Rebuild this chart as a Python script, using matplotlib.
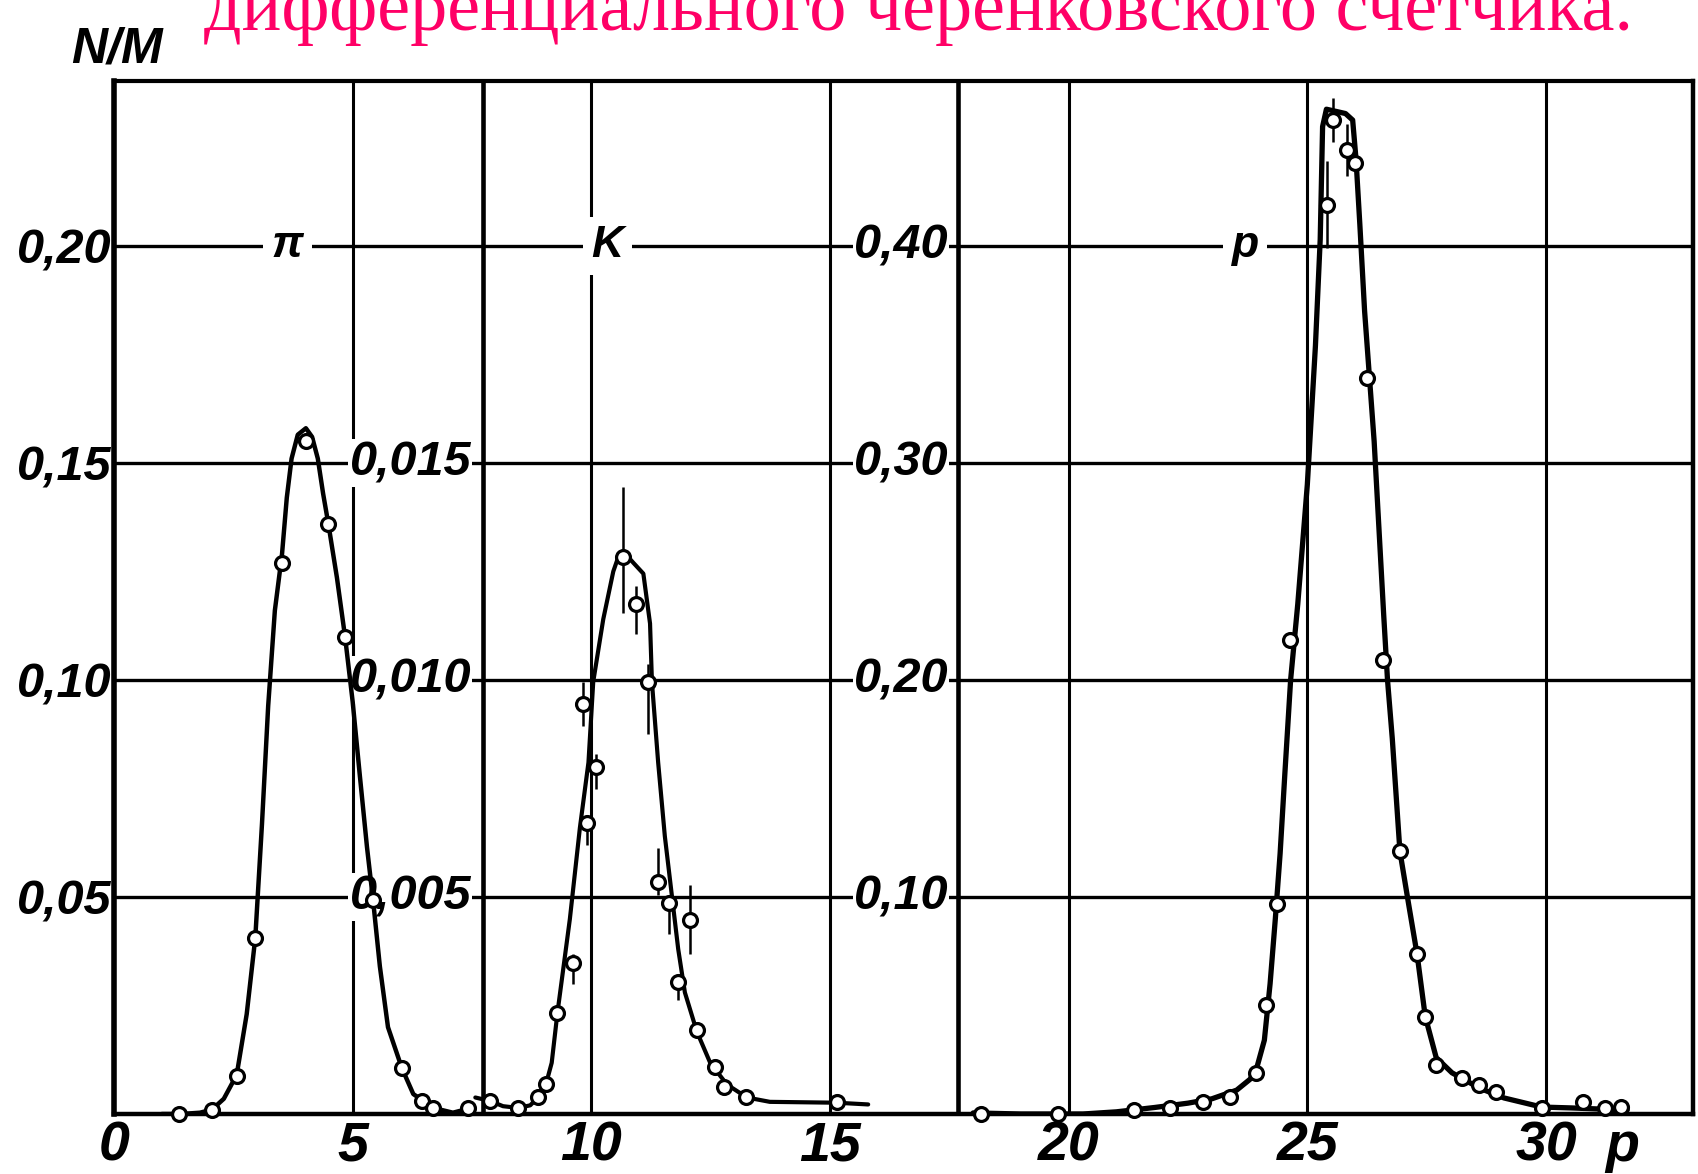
import matplotlib
matplotlib.use("Agg")
import matplotlib.pyplot as plt
from matplotlib import font_manager, transforms

# ---------------- data ----------------
title_text = "дифференциального черенковского счетчика."
y_axis_label = "N/M"
x_tick_values = [0, 5, 10, 15, 20, 25, 30, 31.6]
x_tick_labels = ["0", "5", "10", "15", "20", "25", "30", "p"]
left_tick_values = [0.05, 0.10, 0.15, 0.20]
left_tick_labels = ["0,05", "0,10", "0,15", "0,20"]
k_tick_values = [0.005, 0.010, 0.015]
k_tick_labels = ["0,005", "0,010", "0,015"]
p_tick_values = [0.10, 0.20, 0.30, 0.40]
p_tick_labels = ["0,10", "0,20", "0,30", "0,40"]
panel_names = ["π", "K", "p"]
panel_name_x = [3.63, 10.33, 23.7]

# pi meson (left scale)
pi_x = [1.36, 2.05, 2.57, 2.96, 3.52, 4.03, 4.49, 4.84, 5.43, 6.03, 6.45, 6.69, 7.42]
pi_y = [0.0, 0.0010, 0.0088, 0.0406, 0.127, 0.155, 0.136, 0.110, 0.0494, 0.0106, 0.0030, 0.0014, 0.0014]
pi_curve_x = [1.0, 1.4, 1.8, 2.05, 2.3, 2.57, 2.78, 2.96, 3.1, 3.23, 3.37, 3.52, 3.62, 3.72, 3.85,
              4.02, 4.15, 4.27, 4.38, 4.49, 4.67, 4.84, 5.0, 5.15, 5.3, 5.43, 5.57, 5.74, 6.03, 6.27,
              6.69, 7.1, 7.42]
pi_curve_y = [0.0, 0.0, 0.0003, 0.0010, 0.0035, 0.0090, 0.023, 0.0406, 0.0668, 0.094, 0.116, 0.129,
              0.142, 0.151, 0.1565, 0.158, 0.156, 0.151, 0.143, 0.136, 0.1236, 0.110, 0.095, 0.078,
              0.0615, 0.049, 0.034, 0.020, 0.0106, 0.0046, 0.0014, 0.0003, 0.0012]

# K meson (K scale)
k_x = [7.88, 8.47, 8.89, 9.05, 9.29, 9.61, 9.83, 9.91, 10.10, 10.67, 10.94, 11.19, 11.40, 11.63,
       11.82, 12.07, 12.21, 12.59, 12.78, 13.24, 15.15]
k_y = [0.00030, 0.00014, 0.00039, 0.00069, 0.00233, 0.00349, 0.00945, 0.00670, 0.00799, 0.01284,
       0.01176, 0.00996, 0.00534, 0.00485, 0.00303, 0.00448, 0.00194, 0.00109, 0.00062, 0.00039, 0.00028]
k_err_lo = [0, 0, 0, 0, 0, 0.0005, 0.0005, 0.0005, 0.0005, 0.0013, 0.0007, 0.0012, 0.0003, 0.0007,
            0.0004, 0.0008, 0, 0, 0, 0, 0]
k_err_hi = [0, 0, 0, 0, 0, 0.0002, 0.0005, 0.0002, 0.0003, 0.0016, 0.0004, 0.0004, 0.0008, 0.0002,
            0.0002, 0.0008, 0, 0, 0, 0, 0]
k_curve_x = [7.57, 7.88, 8.15, 8.47, 8.72, 8.89, 9.05, 9.17, 9.29, 9.55, 9.76, 9.94, 10.04, 10.25,
             10.46, 10.57, 10.67, 10.88, 11.09, 11.23, 11.27, 11.40, 11.54, 11.68, 11.82, 11.96, 12.21,
             12.49, 12.84, 13.26, 13.74, 15.14, 15.8]
k_curve_y = [0.00038, 0.00030, 0.00018, 0.00014, 0.00020, 0.00039, 0.00069, 0.00118, 0.00233, 0.00449,
             0.00659, 0.0081, 0.00996, 0.0114, 0.0125, 0.01285, 0.01296, 0.0127, 0.01245, 0.0113,
             0.00995, 0.0081, 0.0064, 0.0051, 0.0038, 0.0028, 0.0019, 0.00118, 0.00068, 0.00038,
             0.00028, 0.00026, 0.00022]

# protons (p scale)
p_x = [18.17, 19.77, 21.37, 22.12, 22.82, 23.37, 23.93, 24.14, 24.37, 24.64, 25.41, 25.53, 25.83,
       26.00, 26.25, 26.59, 26.94, 27.30, 27.47, 27.70, 28.24, 28.60, 28.95, 29.91, 30.78, 31.23, 31.57]
p_y = [0.0, 0.0, 0.0018, 0.0028, 0.0055, 0.0079, 0.019, 0.050, 0.0966, 0.2185, 0.419, 0.458, 0.444,
       0.438, 0.339, 0.209, 0.121, 0.0735, 0.0448, 0.0226, 0.0166, 0.0134, 0.0102, 0.0028, 0.0055,
       0.0028, 0.0032]
p_err = [0, 0, 0, 0, 0, 0, 0, 0, 0, 0, 0.02, 0.01, 0.012, 0, 0, 0, 0, 0, 0, 0, 0, 0, 0, 0, 0, 0, 0]
p_curve_x = [18.0, 19.0, 20.3, 21.0, 21.8, 22.5, 23.0, 23.52, 23.8, 23.95, 24.1, 24.22, 24.33, 24.43,
             24.53, 24.65, 24.8, 25.0, 25.17, 25.27, 25.32, 25.4, 25.6, 25.8, 25.95, 26.02, 26.1, 26.2,
             26.3, 26.4, 26.5, 26.6, 26.68, 26.78, 26.94, 27.13, 27.30, 27.47, 27.7, 28.03, 28.6,
             29.12, 29.91, 30.53, 31.7]
p_curve_y = [0.0005, 0.0, 0.0, 0.001, 0.003, 0.005, 0.007, 0.011, 0.016, 0.022, 0.034, 0.060, 0.090,
             0.120, 0.157, 0.200, 0.235, 0.290, 0.354, 0.403, 0.455, 0.463, 0.462, 0.461, 0.458, 0.44,
             0.41, 0.37, 0.34, 0.31, 0.27, 0.23, 0.20, 0.173, 0.121, 0.0957, 0.0735, 0.045, 0.026,
             0.019, 0.012, 0.0074, 0.0032, 0.0028, 0.0018]

# grid / frame positions (x in momentum units)
x_max = 33.08
left_y_max = 0.238
k_y_max = 0.0238
p_y_max = 0.476
k_axis_x = 7.73
p_axis_x = 17.68
v_grid = [5, 10, 15, 20, 25, 30]

# ---------------- fonts ----------------
names = {f.name for f in font_manager.fontManager.ttflist}
if "Liberation Sans Narrow" in names:
    tick_family = ["Liberation Sans Narrow", "DejaVu Sans"]
    ytick_size, xtick_size = 38, 44
else:
    tick_family = ["Liberation Sans", "DejaVu Sans"]
    ytick_size, xtick_size = 35, 40

W, H, DPI = 1699, 1174, 100
fig = plt.figure(figsize=(W / DPI, H / DPI), dpi=DPI)
fig.patch.set_facecolor("white")

ax = fig.add_axes([114 / W, 1 - 1114 / H, (1693 - 114) / W, (1114 - 81) / H])
ax.set_xlim(0, x_max)
ax.set_ylim(0, left_y_max)
axK = ax.twinx()
axK.set_ylim(0, k_y_max)
axP = ax.twinx()
axP.set_ylim(0, p_y_max)
for a in (axK, axP):
    a.set_axis_off()
    a.patch.set_visible(False)

for side, lw in (("left", 4.0), ("right", 3.2), ("top", 3.0), ("bottom", 3.2)):
    ax.spines[side].set_linewidth(lw)
    ax.spines[side].set_color("black")

# grid lines
for yv in left_tick_values:
    ax.axhline(yv, color="black", lw=2.4, zorder=1)
for xv in v_grid:
    ax.axvline(xv, color="black", lw=2.2, zorder=1)
for xv in (k_axis_x, p_axis_x):
    ax.axvline(xv, color="black", lw=3.3, zorder=1)

# ticks
tick_kw = dict(family=tick_family, style="italic", weight="bold")
ax.set_yticks(left_tick_values)
ax.set_yticklabels(left_tick_labels, **tick_kw, fontsize=ytick_size)
ax.set_xticks(x_tick_values)
ax.set_xticklabels(x_tick_labels, **tick_kw, fontsize=xtick_size)
ax.tick_params(axis="both", length=0)
ax.tick_params(axis="y", pad=2)
ax.tick_params(axis="x", pad=5)

bbox = dict(facecolor="white", edgecolor="none", pad=1.0)
transK = transforms.blended_transform_factory(ax.transData, axK.transData)
transP = transforms.blended_transform_factory(ax.transData, axP.transData)
for v, lab in zip(k_tick_values, k_tick_labels):
    ax.text(k_axis_x - 0.25, v, lab, transform=transK, ha="right", va="center",
            fontsize=ytick_size, bbox=bbox, zorder=2, **tick_kw)
for v, lab in zip(p_tick_values, p_tick_labels):
    ax.text(p_axis_x - 0.2, v, lab, transform=transP, ha="right", va="center",
            fontsize=ytick_size, bbox=dict(facecolor="white", edgecolor="none", pad=0.5),
            zorder=2, **tick_kw)

for xn, nm in zip(panel_name_x, panel_names):
    ax.text(xn, left_tick_values[-1], nm, ha="center", va="center", fontsize=32,
            family=tick_family, style="italic", weight="bold",
            bbox=dict(facecolor="white", edgecolor="none", pad=6), zorder=2)

# curves and points
mk = dict(marker="o", ls="none", mfc="white", mec="black", ms=10, mew=2.3, clip_on=False, zorder=6)
ax.plot(pi_curve_x, pi_curve_y, color="black", lw=3.2, zorder=4, solid_capstyle="round",
        solid_joinstyle="round")
ax.plot(pi_x, pi_y, **mk)

axK.plot(k_curve_x, k_curve_y, color="black", lw=3.0, zorder=4, solid_capstyle="round",
         solid_joinstyle="round")
axK.errorbar(k_x, k_y, yerr=[k_err_lo, k_err_hi], fmt="none", ecolor="black", elinewidth=1.8,
             capsize=0, zorder=5)
axK.plot(k_x, k_y, **mk)

axP.plot(p_curve_x, p_curve_y, color="black", lw=3.8, zorder=4, solid_capstyle="round",
         solid_joinstyle="round")
axP.errorbar(p_x, p_y, yerr=p_err, fmt="none", ecolor="black", elinewidth=1.8, capsize=0, zorder=5)
axP.plot(p_x, p_y, **mk)

# axis label and title
fig.text(71 / W, 1 - 62 / H, y_axis_label, ha="left", va="baseline", fontsize=36,
         family=tick_family, style="italic", weight="bold")

t = fig.text(204 / W, 1 - 30 / H, title_text, ha="left", va="baseline", fontsize=50,
             family="Liberation Serif", color="#FF0066")
renderer = fig.canvas.get_renderer()
wpx = t.get_window_extent(renderer).width
t.set_fontsize(50 * 1430 / wpx)

fig.savefig("out.png", dpi=DPI, facecolor="white")
